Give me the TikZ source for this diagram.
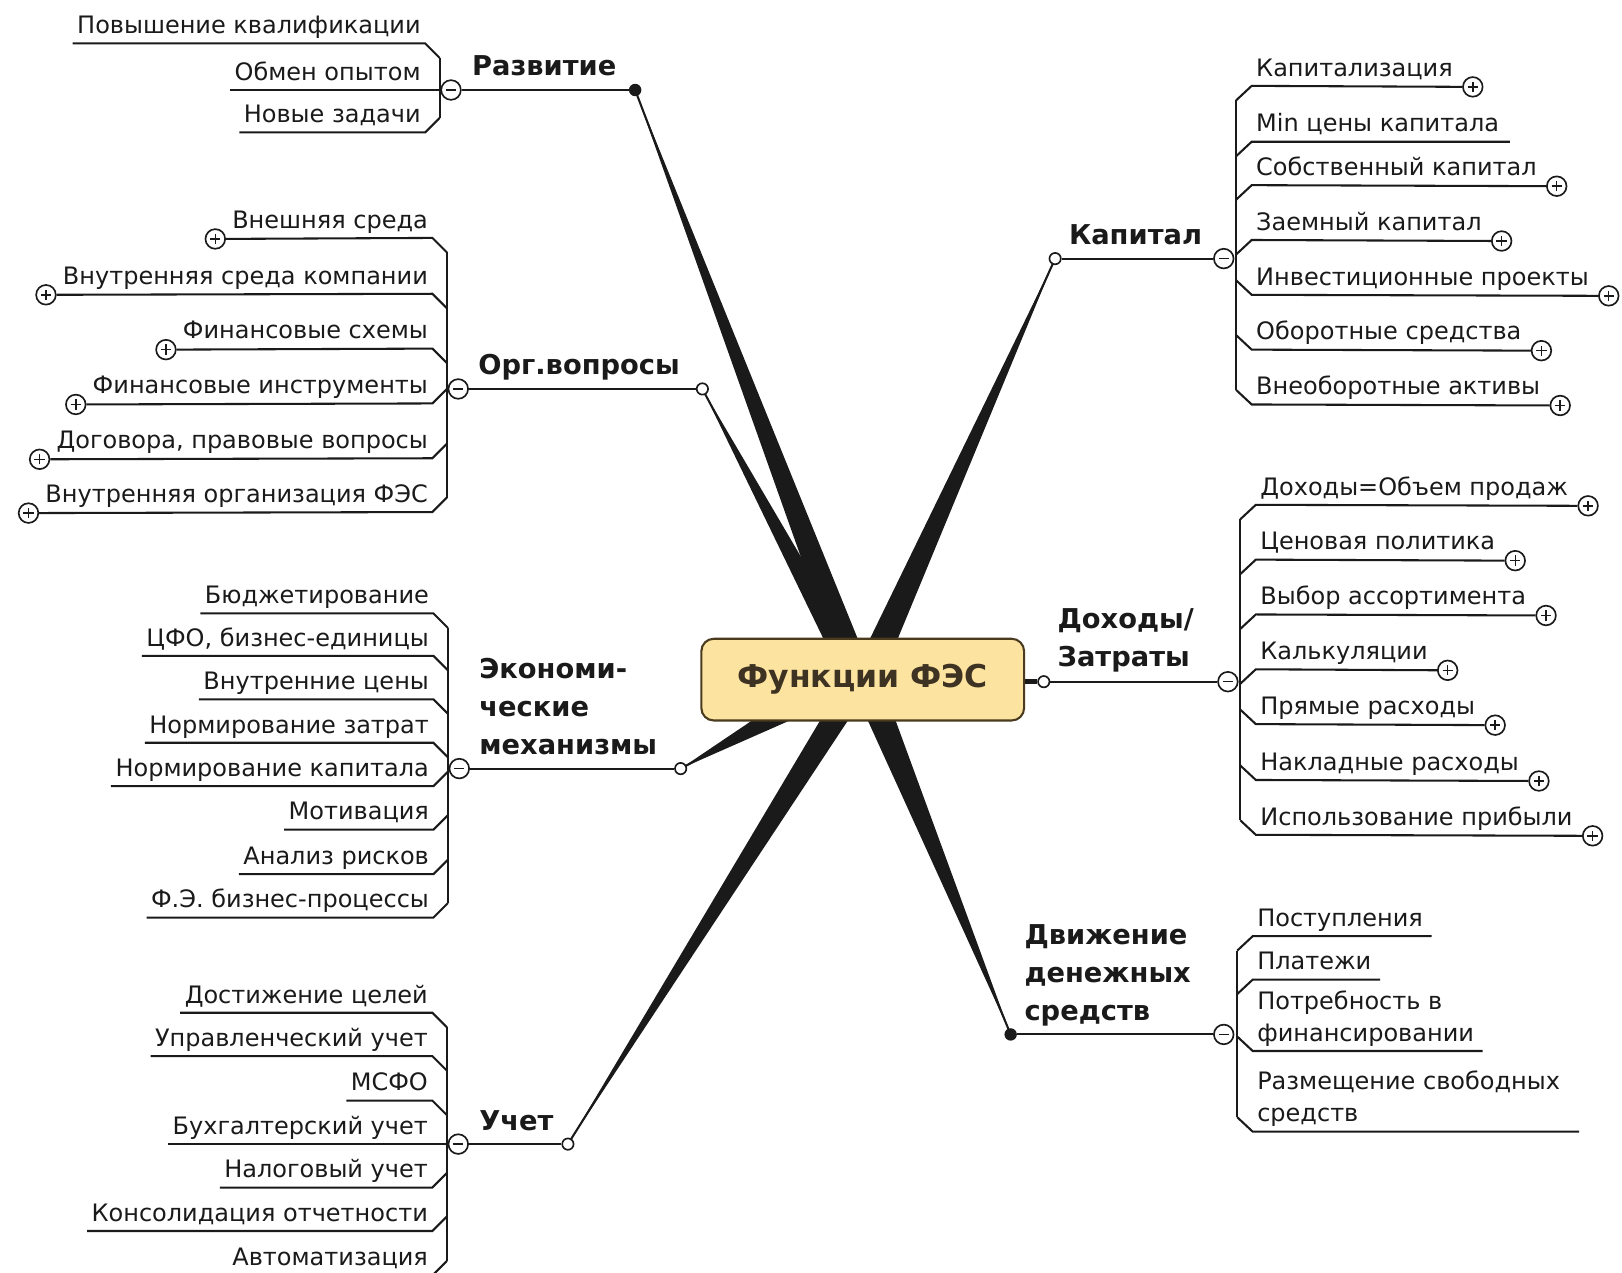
\documentclass[tikz,border=0pt]{standalone}
\usepackage{fontspec}
\setmainfont{DejaVu Sans}
\usetikzlibrary{backgrounds}
\definecolor{boxfill}{HTML}{FCE3A0}
\definecolor{boxdraw}{HTML}{4A3A1E}
\definecolor{boxtext}{HTML}{3E3322}
\definecolor{ink}{HTML}{1A1A1A}
\tikzset{
  ul/.style={draw=ink, line width=1pt},
  kid/.style={font=\fontsize{11.6pt}{15.5pt}\selectfont, text=ink, inner xsep=2pt, inner ysep=2pt, text depth=2.5pt, align=left},
  branch/.style={font=\bfseries\fontsize{13.2pt}{18.5pt}\selectfont, text=ink, inner sep=0pt, text depth=0pt, align=left},
  rootbox/.style={draw=boxdraw, fill=boxfill, line width=1pt, rounded corners=6pt, minimum width=156pt, minimum height=39.5pt, font=\bfseries\fontsize{15.2pt}{18pt}\selectfont, text=boxtext},
  opendot/.style={circle, draw=ink, fill=white, line width=0.8pt, minimum size=5.5pt, inner sep=0pt},
  fulldot/.style={circle, fill=ink, minimum size=6pt, inner sep=0pt},
  pluscirc/.style={circle, draw=ink, fill=white, line width=0.8pt, minimum size=9.5pt, inner sep=0pt,
    path picture={\draw[ink, line width=0.7pt] ([xshift=-2.5pt]path picture bounding box.center) -- ([xshift=2.5pt]path picture bounding box.center) ([yshift=-2.5pt]path picture bounding box.center) -- ([yshift=2.5pt]path picture bounding box.center);}},
  minuscirc/.style={circle, draw=ink, fill=white, line width=0.8pt, minimum size=9.5pt, inner sep=0pt,
    path picture={\draw[ink, line width=0.7pt] ([xshift=-2.5pt]path picture bounding box.center) -- ([xshift=2.5pt]path picture bounding box.center);}},
  spoke/.style={fill=ink},
  spokeline/.style={draw=ink, line width=1pt},
}
\begin{document}
\begin{tikzpicture}[x=0.5pt,y=-0.5pt]
\useasboundingbox (0,0) rectangle (1568,1230);
\clip (0,0) rectangle (1568,1230);

\node[rootbox] (fc) at (834,657) {Функции ФЭС};

% ---------- Развитие ----------
\node[fulldot] (rzd) at (614,87) {};
\node[minuscirc] (rzm) at (436,87) {};
\draw[ul] (rzm) -- (rzd);
\node[branch, anchor=south west] (rzl) at (456,73) {Развитие};
\node[kid, anchor=south east] (rz1) at (411,42) {Повышение квалификации};
\node[kid, anchor=south east] (rz2) at (411,87) {Обмен опытом};
\node[kid, anchor=south east] (rz3) at (411,128) {Новые задачи};
\draw[ul] (rz1.south west) -- (rz1.south east) -- ++(14,14);
\draw[ul] (rz2.south west) -- (rzm);
\draw[ul] (rz3.south west) -- (rz3.south east) -- ++(14,-14);
\draw[ul] ([shift={(14,14)}]rz1.south east) -- ([shift={(14,-14)}]rz3.south east);

% ---------- Орг.вопросы ----------
\node[opendot] (ogd) at (679,376) {};
\node[minuscirc] (ogm) at (443,376) {};
\draw[ul] (ogm) -- (ogd);
\node[branch, anchor=south west] (ogl) at (462,362) {Орг.вопросы};
\node[kid, anchor=south east] (og1) at (418,230) {Внешняя среда};
\node[kid, anchor=south east] (og2) at (418,284) {Внутренняя среда компании};
\node[kid, anchor=south east] (og3) at (418,337) {Финансовые схемы};
\node[kid, anchor=south east] (og4) at (418,390) {Финансовые инструменты};
\node[kid, anchor=south east] (og5) at (418,443) {Договора, правовые вопросы};
\node[kid, anchor=south east] (og6) at (418,495) {Внутренняя организация ФЭС};
\node[pluscirc] (og1p) at ([shift={(-12,1)}]og1.south west) {};
\node[pluscirc] (og2p) at ([shift={(-12,1)}]og2.south west) {};
\node[pluscirc] (og3p) at ([shift={(-12,1)}]og3.south west) {};
\node[pluscirc] (og4p) at ([shift={(-12,1)}]og4.south west) {};
\node[pluscirc] (og5p) at ([shift={(-12,1)}]og5.south west) {};
\node[pluscirc] (og6p) at ([shift={(-12,1)}]og6.south west) {};
\draw[ul] (og1p) -- (og1.south east) -- ++(14,14);
\draw[ul] (og2p) -- (og2.south east) -- ++(14,14);
\draw[ul] (og3p) -- (og3.south east) -- ++(14,14);
\draw[ul] (og4p) -- (og4.south east) -- ++(14,-14);
\draw[ul] (og5p) -- (og5.south east) -- ++(14,-14);
\draw[ul] (og6p) -- (og6.south east) -- ++(14,-14);
\draw[ul] ([shift={(14,14)}]og1.south east) -- ([shift={(14,-14)}]og6.south east);

% ---------- Экономические механизмы ----------
\node[opendot] (ekd) at (658,743) {};
\node[minuscirc] (ekm) at (444,743) {};
\draw[ul] (ekm) -- (ekd);
\node[branch, anchor=south west] (ekl) at (463,730) {Экономи-\\ческие\\механизмы};
\node[kid, anchor=south east] (ek1) at (419,593) {Бюджетирование};
\node[kid, anchor=south east] (ek2) at (419,634) {ЦФО, бизнес-единицы};
\node[kid, anchor=south east] (ek3) at (419,676) {Внутренние цены};
\node[kid, anchor=south east] (ek4) at (419,718) {Нормирование затрат};
\node[kid, anchor=south east] (ek5) at (419,760) {Нормирование капитала};
\node[kid, anchor=south east] (ek6) at (419,802) {Мотивация};
\node[kid, anchor=south east] (ek7) at (419,845) {Анализ рисков};
\node[kid, anchor=south east] (ek8) at (419,887) {Ф.Э. бизнес-процессы};
\draw[ul] (ek1.south west) -- (ek1.south east) -- ++(14,14);
\draw[ul] (ek2.south west) -- (ek2.south east) -- ++(14,14);
\draw[ul] (ek3.south west) -- (ek3.south east) -- ++(14,14);
\draw[ul] (ek4.south west) -- (ek4.south east) -- ++(14,14);
\draw[ul] (ek5.south west) -- (ek5.south east) -- ++(14,-14);
\draw[ul] (ek6.south west) -- (ek6.south east) -- ++(14,-14);
\draw[ul] (ek7.south west) -- (ek7.south east) -- ++(14,-14);
\draw[ul] (ek8.south west) -- (ek8.south east) -- ++(14,-14);
\draw[ul] ([shift={(14,14)}]ek1.south east) -- ([shift={(14,-14)}]ek8.south east);

% ---------- Учет ----------
\node[opendot] (uchd) at (549,1106) {};
\node[minuscirc] (uchm) at (443,1106) {};
\draw[ul] (uchm) -- (uchd);
\node[branch, anchor=south west] (uchl) at (463,1093) {Учет};
\node[kid, anchor=south east] (uc1) at (418,979) {Достижение целей};
\node[kid, anchor=south east] (uc2) at (418,1021) {Управленческий учет};
\node[kid, anchor=south east] (uc3) at (418,1064) {МСФО};
\node[kid, anchor=south east] (uc4) at (418,1106) {Бухгалтерский учет};
\node[kid, anchor=south east] (uc5) at (418,1148) {Налоговый учет};
\node[kid, anchor=south east] (uc6) at (418,1190) {Консолидация отчетности};
\node[kid, anchor=south east] (uc7) at (418,1233) {Автоматизация};
\draw[ul] (uc1.south west) -- (uc1.south east) -- ++(14,14);
\draw[ul] (uc2.south west) -- (uc2.south east) -- ++(14,14);
\draw[ul] (uc3.south west) -- (uc3.south east) -- ++(14,14);
\draw[ul] (uc4.south west) -- (uchm);
\draw[ul] (uc5.south west) -- (uc5.south east) -- ++(14,-14);
\draw[ul] (uc6.south west) -- (uc6.south east) -- ++(14,-14);
\draw[ul] (uc7.south west) -- (uc7.south east) -- ++(14,-14);
\draw[ul] ([shift={(14,14)}]uc1.south east) -- ([shift={(14,-14)}]uc7.south east);

% ---------- Капитал ----------
\node[opendot] (kpd) at (1020,250) {};
\node[minuscirc] (kpm) at (1183,250) {};
\draw[ul] (kpm) -- (kpd);
\node[branch, anchor=south west] (kpl) at (1033,237) {Капитал};
\node[kid, anchor=south west] (kp1) at (1210,83) {Капитализация};
\node[kid, anchor=south west] (kp2) at (1210,137) {Min цены капитала};
\node[kid, anchor=south west] (kp3) at (1210,179) {Собственный капитал};
\node[kid, anchor=south west] (kp4) at (1210,232) {Заемный капитал};
\node[kid, anchor=south west] (kp5) at (1210,285) {Инвестиционные проекты};
\node[kid, anchor=south west] (kp6) at (1210,338) {Оборотные средства};
\node[kid, anchor=south west] (kp7) at (1210,391) {Внеоборотные активы};
\node[pluscirc] (kp1p) at ([shift={(15,1)}]kp1.south east) {};
\node[pluscirc] (kp3p) at ([shift={(15,1)}]kp3.south east) {};
\node[pluscirc] (kp4p) at ([shift={(15,1)}]kp4.south east) {};
\node[pluscirc] (kp5p) at ([shift={(15,1)}]kp5.south east) {};
\node[pluscirc] (kp6p) at ([shift={(15,1)}]kp6.south east) {};
\node[pluscirc] (kp7p) at ([shift={(15,1)}]kp7.south east) {};
\draw[ul] (kp1p) -- (kp1.south west) -- ++(-15,14);
\draw[ul] ([shift={(6,0)}]kp2.south east) -- (kp2.south west) -- ++(-15,14);
\draw[ul] (kp3p) -- (kp3.south west) -- ++(-15,14);
\draw[ul] (kp4p) -- (kp4.south west) -- ++(-15,14);
\draw[ul] (kp5p) -- (kp5.south west) -- ++(-15,-14);
\draw[ul] (kp6p) -- (kp6.south west) -- ++(-15,-14);
\draw[ul] (kp7p) -- (kp7.south west) -- ++(-15,-14);
\draw[ul] ([shift={(-15,14)}]kp1.south west) -- ([shift={(-15,-14)}]kp7.south west);

% ---------- Доходы/Затраты ----------
\node[opendot] (dzd) at (1009,659) {};
\node[minuscirc] (dzm) at (1187,659) {};
\draw[ul] (dzm) -- (dzd);
\draw[ink, line width=2.5pt] (fc.east |- dzd) -- (dzd);
\node[branch, anchor=south west] (dzl) at (1022,645) {Доходы/\\Затраты};
\node[kid, anchor=south west] (dz1) at (1214,488) {Доходы=Объем продаж};
\node[kid, anchor=south west] (dz2) at (1214,541) {Ценовая политика};
\node[kid, anchor=south west] (dz3) at (1214,594) {Выбор ассортимента};
\node[kid, anchor=south west] (dz4) at (1214,647) {Калькуляции};
\node[kid, anchor=south west] (dz5) at (1214,700) {Прямые расходы};
\node[kid, anchor=south west] (dz6) at (1214,754) {Накладные расходы};
\node[kid, anchor=south west] (dz7) at (1214,807) {Использование прибыли};
\node[pluscirc] (dz1p) at ([shift={(15,1)}]dz1.south east) {};
\node[pluscirc] (dz2p) at ([shift={(15,1)}]dz2.south east) {};
\node[pluscirc] (dz3p) at ([shift={(15,1)}]dz3.south east) {};
\node[pluscirc] (dz4p) at ([shift={(15,1)}]dz4.south east) {};
\node[pluscirc] (dz5p) at ([shift={(15,1)}]dz5.south east) {};
\node[pluscirc] (dz6p) at ([shift={(15,1)}]dz6.south east) {};
\node[pluscirc] (dz7p) at ([shift={(15,1)}]dz7.south east) {};
\draw[ul] (dz1p) -- (dz1.south west) -- ++(-15,14);
\draw[ul] (dz2p) -- (dz2.south west) -- ++(-15,14);
\draw[ul] (dz3p) -- (dz3.south west) -- ++(-15,14);
\draw[ul] (dz4p) -- (dz4.south west) -- ++(-15,14);
\draw[ul] (dz5p) -- (dz5.south west) -- ++(-15,-14);
\draw[ul] (dz6p) -- (dz6.south west) -- ++(-15,-14);
\draw[ul] (dz7p) -- (dz7.south west) -- ++(-15,-14);
\draw[ul] ([shift={(-15,14)}]dz1.south west) -- ([shift={(-15,-14)}]dz7.south west);

% ---------- Движение денежных средств ----------
\node[fulldot] (dvd) at (977,1000) {};
\node[minuscirc] (dvm) at (1183,1000) {};
\draw[ul] (dvm) -- (dvd);
\node[branch, anchor=south west] (dvl) at (990,987) {Движение\\денежных\\средств};
\node[kid, anchor=south west] (dv1) at (1211,905) {Поступления};
\node[kid, anchor=south west] (dv2) at (1211,947) {Платежи};
\node[kid, anchor=south west] (dv3) at (1211,1016) {Потребность в\\финансировании};
\node[kid, anchor=south west] (dv4) at (1211,1094) {Размещение свободных\\средств};
\draw[ul] ([shift={(4,0)}]dv1.south east) -- (dv1.south west) -- ++(-15,14);
\draw[ul] ([shift={(4,0)}]dv2.south east) -- (dv2.south west) -- ++(-15,14);
\draw[ul] ([shift={(4,0)}]dv3.south east) -- (dv3.south west) -- ++(-15,-14);
\draw[ul] ([shift={(14,0)}]dv4.south east) -- (dv4.south west) -- ++(-15,-14);
\draw[ul] ([shift={(-15,14)}]dv1.south west) -- ([shift={(-15,-14)}]dv4.south west);

% ---------- spokes ----------
\begin{scope}[on background layer]
\fill[spoke] ([shift={(-31,3)}]fc.north) -- (rzd.center) -- ([shift={(-4,3)}]fc.north) -- cycle;
\draw[spokeline] (rzd.center) -- ([shift={(-17,3)}]fc.north);
\fill[spoke] ([shift={(-37,3)}]fc.north) -- (ogd.center) -- ([shift={(-12,3)}]fc.north) -- cycle;
\draw[spokeline] (ogd.center) -- ([shift={(-25,3)}]fc.north);
\fill[spoke] ([shift={(6,3)}]fc.north) -- (kpd.center) -- ([shift={(33,3)}]fc.north) -- cycle;
\draw[spokeline] (kpd.center) -- ([shift={(19,3)}]fc.north);
\fill[spoke] ([shift={(-104,-3)}]fc.south) -- (ekd.center) -- ([shift={(-66,-3)}]fc.south) -- cycle;
\draw[spokeline] (ekd.center) -- ([shift={(-85,-3)}]fc.south);
\fill[spoke] ([shift={(-40,-3)}]fc.south) -- (uchd.center) -- ([shift={(-13,-3)}]fc.south) -- cycle;
\draw[spokeline] (uchd.center) -- ([shift={(-26,-3)}]fc.south);
\fill[spoke] ([shift={(4,-3)}]fc.south) -- (dvd.center) -- ([shift={(31,-3)}]fc.south) -- cycle;
\draw[spokeline] (dvd.center) -- ([shift={(17,-3)}]fc.south);
\end{scope}
\end{tikzpicture}
\end{document}
